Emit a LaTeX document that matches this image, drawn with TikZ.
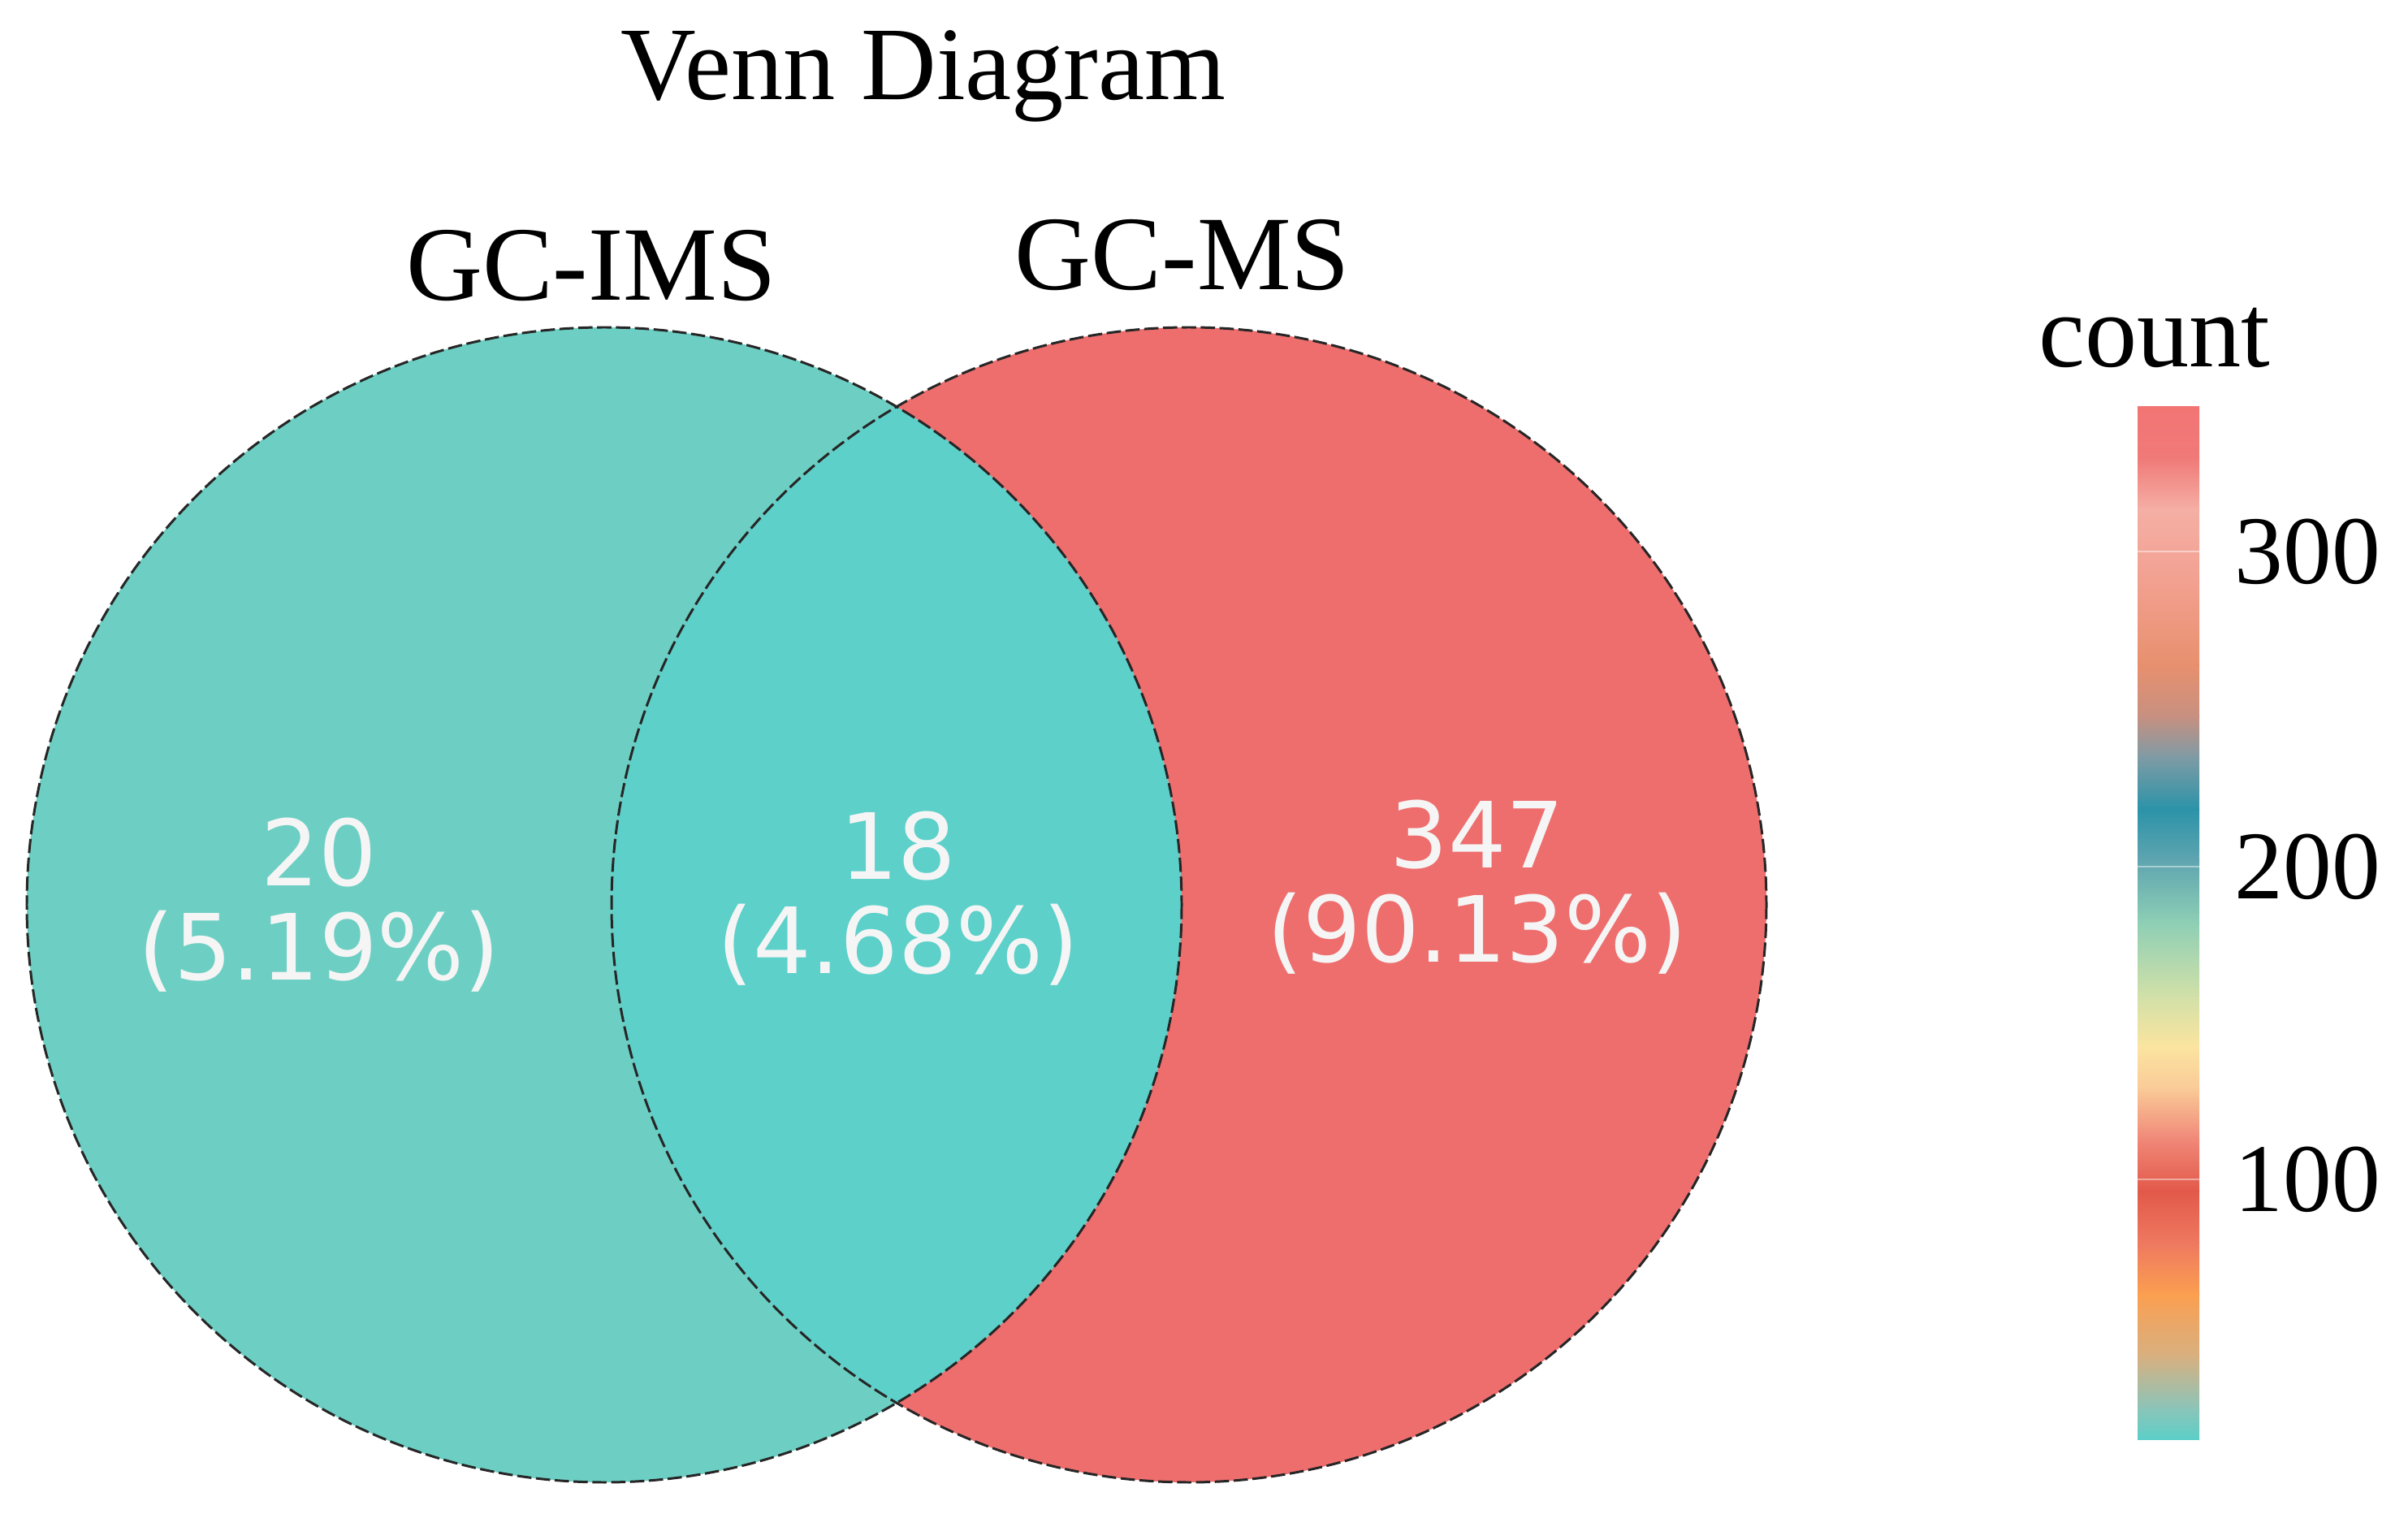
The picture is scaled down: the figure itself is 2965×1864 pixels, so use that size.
\documentclass[tikz,border=0pt]{standalone}
\usepackage{fontspec}
\setmainfont{Liberation Serif}
\newfontfamily\numfont{DejaVu Sans}
\definecolor{leftc}{HTML}{6DCFC3}
\definecolor{interc}{HTML}{5DD0CA}
\definecolor{rightc}{HTML}{EE6E6E}
\definecolor{cb0}{HTML}{F27574}
\definecolor{cb1}{HTML}{F07A78}
\definecolor{cb2}{HTML}{F5AFA5}
\definecolor{cb3}{HTML}{F2A090}
\definecolor{cb4}{HTML}{E8906E}
\definecolor{cb5}{HTML}{C89080}
\definecolor{cb6}{HTML}{7E9BA5}
\definecolor{cb7}{HTML}{2B93A8}
\definecolor{cb8}{HTML}{5FA5B0}
\definecolor{cb9}{HTML}{8ECFB5}
\definecolor{cb10}{HTML}{D0E0A8}
\definecolor{cb11}{HTML}{FBE4A0}
\definecolor{cb12}{HTML}{FACB98}
\definecolor{cb13}{HTML}{F08878}
\definecolor{cb14}{HTML}{E2594A}
\definecolor{cb15}{HTML}{EE7860}
\definecolor{cb16}{HTML}{FB9F50}
\definecolor{cb17}{HTML}{D8B080}
\definecolor{cb18}{HTML}{8CC4B8}
\definecolor{cb19}{HTML}{5DCFC8}
\tikzset{
  vennline/.style={draw=black!85, line width=0.85pt, dash pattern=on 5pt off 1.6pt},
  titletext/.style={font=\fontsize{36.5}{40}\selectfont, inner sep=0pt, anchor=base},
  settext/.style={font=\fontsize{37}{40}\selectfont, inner sep=0pt, anchor=base},
  ticktext/.style={font=\fontsize{34}{38}\selectfont, inner sep=0pt, anchor=west},
  counttext/.style={font=\numfont\fontsize{32}{33}\selectfont, text=white!96!black, align=center, inner sep=0pt},
  tickline/.style={white, line width=0.8pt, opacity=0.45}
}
\begin{document}
\begin{tikzpicture}[x=0.01cm,y=-0.01cm]
\useasboundingbox (0,0) rectangle (2965,1864);
\fill[white] (0,0) rectangle (2965,1864);
% circles
\coordinate (cL) at (744,1114);
\coordinate (cR) at (1464,1114);
\fill[leftc] (cL) circle[radius=711];
\fill[rightc] (cR) circle[radius=711];
\begin{scope}
  \clip (cL) circle[radius=711];
  \fill[interc] (cR) circle[radius=711];
\end{scope}
\draw[vennline] (cL) circle[radius=711];
\draw[vennline] (cR) circle[radius=711];
% titles
\node[titletext] (title) at (1137,123) {Venn Diagram};
\node[settext] (gcims) at (728,370) {GC-IMS};
\node[settext] (gcms) at (1456,357) {GC-MS};
% counts
\node[counttext] (nL) at (393,1114) {20\\(5.19\%)};
\node[counttext] (nI) at (1106,1106) {18\\(4.68\%)};
\node[counttext] (nR) at (1819,1092) {347\\(90.13\%)};
% colour bar
\node[titletext] (count) at (2653,452) {count};
\shade[top color=cb0, bottom color=cb1] (2632,501) rectangle (2708,565);
\shade[top color=cb1, bottom color=cb2] (2632,564) rectangle (2708,628);
\shade[top color=cb2, bottom color=cb3] (2632,627) rectangle (2708,717);
\shade[top color=cb3, bottom color=cb4] (2632,716) rectangle (2708,819);
\shade[top color=cb4, bottom color=cb5] (2632,818) rectangle (2708,882);
\shade[top color=cb5, bottom color=cb6] (2632,881) rectangle (2708,933);
\shade[top color=cb6, bottom color=cb7] (2632,932) rectangle (2708,997);
\shade[top color=cb7, bottom color=cb8] (2632,996) rectangle (2708,1060);
\shade[top color=cb8, bottom color=cb9] (2632,1059) rectangle (2708,1137);
\shade[top color=cb9, bottom color=cb10] (2632,1136) rectangle (2708,1225);
\shade[top color=cb10, bottom color=cb11] (2632,1224) rectangle (2708,1289);
\shade[top color=cb11, bottom color=cb12] (2632,1288) rectangle (2708,1340);
\shade[top color=cb12, bottom color=cb13] (2632,1339) rectangle (2708,1403);
\shade[top color=cb13, bottom color=cb14] (2632,1402) rectangle (2708,1467);
\shade[top color=cb14, bottom color=cb15] (2632,1466) rectangle (2708,1530);
\shade[top color=cb15, bottom color=cb16] (2632,1529) rectangle (2708,1594);
\shade[top color=cb16, bottom color=cb17] (2632,1593) rectangle (2708,1670);
\shade[top color=cb17, bottom color=cb18] (2632,1669) rectangle (2708,1734);
\shade[top color=cb18, bottom color=cb19] (2632,1733) rectangle (2708,1772);
\coordinate (t3a) at (2632,679); \coordinate (t3b) at (2708,679);
\coordinate (t2a) at (2632,1067); \coordinate (t2b) at (2708,1067);
\coordinate (t1a) at (2632,1452); \coordinate (t1b) at (2708,1452);
\draw[tickline] (t3a) -- (t3b);
\draw[tickline] (t2a) -- (t2b);
\draw[tickline] (t1a) -- (t1b);
\node[ticktext] (l300) at (2751,679) {300};
\node[ticktext] (l200) at (2751,1067) {200};
\node[ticktext] (l100) at (2751,1452) {100};
\end{tikzpicture}
\end{document}
